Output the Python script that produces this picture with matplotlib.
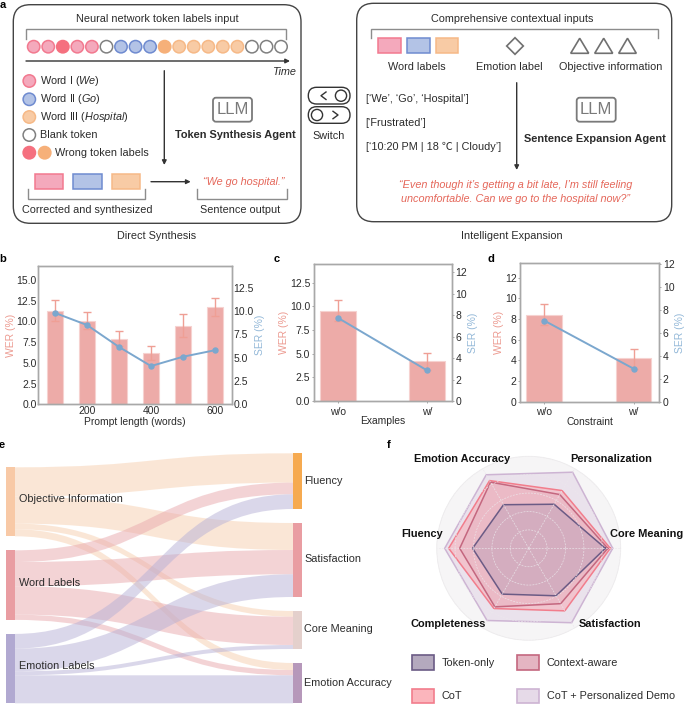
import numpy as np
import matplotlib
matplotlib.use('Agg')
import matplotlib.pyplot as plt
from matplotlib.patches import FancyBboxPatch, Rectangle, Circle, Polygon, PathPatch, FancyArrowPatch
from matplotlib.path import Path

# ---- data ----
prompt_lengths = [100, 200, 300, 400, 500, 600]
b_wer = [11.3, 10.05, 7.9, 6.2, 9.5, 11.7]
b_wer_low = [10.1, 9.1, 7.0, 5.4, 8.15, 10.6]
b_wer_high = [12.55, 11.1, 8.8, 7.0, 10.85, 12.85]
b_ser = [9.8, 8.5, 6.15, 4.1, 5.1, 5.8]

cd_categories = ['w/o', 'w/']
c_wer = [9.5, 4.2]
c_wer_low = [8.4, 3.3]
c_wer_high = [10.63, 5.1]
c_ser = [7.77, 2.86]
d_wer = [8.4, 4.2]
d_wer_low = [7.4, 3.15]
d_wer_high = [9.42, 5.1]
d_ser = [7.08, 2.88]

sources = ['Objective Information', 'Word Labels', 'Emotion Labels']
targets = ['Fluency', 'Satisfaction', 'Core Meaning', 'Emotion Accuracy']
flow_objective = [29.3, 27.0, 5.7, 7.0]
flow_word = [11.7, 24.3, 28.3, 5.3]
flow_emotion = [14.7, 22.7, 4.0, 28.0]

radar_axes = ['Core Meaning', 'Personalization', 'Emotion Accuracy', 'Fluency', 'Completeness', 'Satisfaction']
radar_token = [83.3, 55.3, 54.7, 61.0, 57.5, 59.6]
radar_context = [86.0, 67.5, 83.0, 75.0, 73.5, 69.5]
radar_cot = [88.7, 72.5, 85.0, 87.0, 75.6, 78.5]
radar_demo = [91.3, 95.5, 92.3, 91.3, 90.6, 93.4]
radar_names = ['Token-only', 'Context-aware', 'CoT', 'CoT + Personalized Demo']

token_sequence = ['I', 'I', 'wI', 'I', 'I', 'B', 'II', 'II', 'II', 'wIII', 'III', 'III', 'III', 'III', 'III', 'B', 'B', 'B']

# ---- style ----
W, H = 685, 704
FAM = ['Liberation Sans', 'Noto Sans CJK SC', 'DejaVu Sans']
plt.rcParams['font.family'] = FAM
plt.rcParams['mathtext.fontset'] = 'custom'
plt.rcParams['mathtext.rm'] = 'Liberation Sans'
plt.rcParams['mathtext.it'] = 'Liberation Sans:italic'
TXT = '#2b2b2b'
SP = '#a8a8a8'
BAR = '#EDABA8'
BARE = '#F6D2D0'
ERR = '#EF9F95'
LINE = '#7BA7CE'
WERC = '#EC9A90'
SERC = '#93B8D8'
RED = '#E5675A'
FS = 7.8
FB = 7.95
FT = 7.5

fig = plt.figure(figsize=(W / 100, H / 100), dpi=100)
bg = fig.add_axes([0, 0, 1, 1])
bg.set_xlim(0, W)
bg.set_ylim(H, 0)
bg.axis('off')


def T(x, y, s, ha='center', size=FS, color=TXT, **kw):
    bg.text(x, y, s, ha=ha, va='center', fontsize=size, color=color, **kw)


def bracket(x0, x1, yflat, yend, color='#8c8c8c'):
    bg.plot([x0, x0, x1, x1], [yend, yflat, yflat, yend], color=color, lw=1.0, solid_joinstyle='miter')


def arrow(p0, p1, lw=1.0):
    bg.add_patch(FancyArrowPatch(p0, p1, arrowstyle='-|>', mutation_scale=6.5, color='#333333', lw=lw,
                                 shrinkA=0, shrinkB=0))


def rbox(x0, y0, x1, y1, r, ec='#444444', lw=1.0, fc='white', z=1):
    bg.add_patch(FancyBboxPatch((x0 + r, y0 + r), x1 - x0 - 2 * r, y1 - y0 - 2 * r,
                                boxstyle=f'round,pad={r},rounding_size={r}', ec=ec, fc=fc, lw=lw, zorder=z))


TOK = {'I': ('#F4A9BC', '#F2798F'), 'II': ('#B3C3E6', '#6F8BD0'), 'III': ('#F8CBA5', '#F6B987'),
       'B': ('white', '#808080'), 'wI': ('#F5707F', '#F5707F'), 'wIII': ('#F6B079', '#F6B079')}


def token(x, y, kind, r=6.2):
    fc, ec = TOK[kind]
    bg.add_patch(Circle((x, y), r, fc=fc, ec=ec, lw=1.1, zorder=3))


def wordrect(x0, x1, y0, y1, kind):
    fc, ec = TOK[kind]
    bg.add_patch(Rectangle((x0, y0), x1 - x0, y1 - y0, fc=fc, ec=ec, lw=1.1, zorder=3))


def llm(x0, x1, y0, y1):
    rbox(x0, y0, x1, y1, 3, ec='#7a7a7a', lw=1.3)
    T((x0 + x1) / 2, (y0 + y1) / 2 + 0.3, 'LLM', size=12, color='#7a7a7a', zorder=4)


# ---- panel a, left ----
rbox(13.3, 4.7, 301, 223.3, 17)
T(157.7, 18.7, 'Neural network token labels input')
bracket(26, 285.7, 29.3, 39)
for i, k in enumerate(token_sequence):
    token(33.7 + i * 14.55, 46.7, k)
arrow((26, 61), (290, 61))
T(295.7, 72.3, 'Time', ha='right', style='italic')
for yy, k, s in [(81, 'I', r'Word I ($\mathit{We}$)'), (99.3, 'II', r'Word II ($\mathit{Go}$)'),
                 (117, 'III', r'Word III ($\mathit{Hospital}$)'), (135, 'B', 'Blank token')]:
    token(29.3, yy, k)
    T(40, yy, s, ha='left')
token(29.3, 152.7, 'wI')
token(44.7, 152.7, 'wIII')
T(55, 152.7, 'Wrong token labels', ha='left')
arrow((164.3, 70.7), (164.3, 165))
llm(213, 252, 97.7, 121.7)
T(235, 135.3, 'Token Synthesis Agent', weight='bold', size=FB)
for x0, x1, k in [(34.7, 63.3, 'I'), (73.3, 101.7, 'II'), (112, 140.3, 'III')]:
    wordrect(x0, x1, 174, 188.7, k)
bracket(28.3, 145, 198.7, 189.3)
T(87.3, 210.3, 'Corrected and synthesized')
arrow((151, 181.7), (190.7, 181.7))
T(243.3, 182.3, '\u201cWe go hospital.\u201d', color=RED, style='italic')
bracket(196.7, 287.3, 198.7, 189.3)
T(240, 210.3, 'Sentence output')
T(156.7, 236, 'Direct Synthesis')

# ---- switch ----
rbox(308.3, 87.3, 350, 104, 8.3, ec='#333333', lw=1)
rbox(308.3, 106.7, 350, 123.3, 8.3, ec='#333333', lw=1)
bg.add_patch(Circle((341, 95.7), 5.6, fc='white', ec='#333333', lw=1, zorder=3))
bg.add_patch(Circle((317, 115), 5.6, fc='white', ec='#333333', lw=1, zorder=3))
bg.plot([326, 321, 326], [92, 95.7, 99.5], color='#333333', lw=1, zorder=3)
bg.plot([333, 338, 333], [111.3, 115, 118.7], color='#333333', lw=1, zorder=3)
T(329, 136, 'Switch')

# ---- panel a, right ----
rbox(356.7, 3.3, 671.7, 221.7, 17)
T(511.7, 19, 'Comprehensive contextual inputs')
bracket(371.3, 658.3, 28.7, 38.3)
for x0, x1, k in [(378.3, 401, 'I'), (407, 429.7, 'II'), (435.7, 458.3, 'III')]:
    wordrect(x0, x1, 38, 52.7, k)
bg.add_patch(Polygon([(515, 37.7), (523.3, 46), (515, 54.3), (506.7, 46)], fc='white', ec='#707070', lw=1.2, zorder=3))
for x0, x1 in [(570.7, 588.7), (594.7, 612.7), (618.7, 636.3)]:
    bg.add_patch(Polygon([(x0, 53.3), (x1, 53.3), ((x0 + x1) / 2, 38.3)], fc='white', ec='#707070', lw=1.2, zorder=3))
T(417, 67.3, 'Word labels')
T(509.3, 67.3, 'Emotion label')
T(610.7, 67.3, 'Objective information')
T(365.7, 98.7, "[\u2018We\u2019, \u2018Go\u2019, \u2018Hospital\u2019]", ha='left')
T(365.7, 122.7, "[\u2018Frustrated\u2019]", ha='left')
T(365.7, 147, "[\u201810:20 PM | 18 \u2103 | Cloudy\u2019]", ha='left')
arrow((516.7, 82.7), (516.7, 170))
llm(576.7, 615.7, 97.7, 121.7)
T(595.3, 138.7, 'Sentence Expansion Agent', weight='bold', size=FB)
T(516, 185.3, '\u201cEven though it\u2019s getting a bit late, I\u2019m still feeling', color=RED, style='italic')
T(516, 198.7, 'uncomfortable. Can we go to the hospital now?\u201d', color=RED, style='italic')
T(512.3, 236, 'Intelligent Expansion')

# ---- panel letters ----
for s, x, y in [('a', 3, 5), ('b', 3, 259), ('c', 277, 259), ('d', 491, 258.5), ('e', 2, 445), ('f', 389, 445)]:
    T(x, y, s, size=8, weight='bold', color='black')


# ---- panels b, c, d ----
def axpx(x0, x1, y0, y1, **kw):
    return fig.add_axes([x0 / W, 1 - y1 / H, (x1 - x0) / W, (y1 - y0) / H], **kw)


def combo(box, x, wer, low, high, ser, width, xlim, ylim_l, ylim_r, xticks, xticklabels, yticks_l, yticks_r,
          ylabels_l, ylabels_r, xlabel, lab_l, lab_r, lab_x, ticklen, xlen, xpad):
    ax = axpx(*box)
    ax.patch.set_alpha(0)
    err = [np.array(wer) - np.array(low), np.array(high) - np.array(wer)]
    ax.bar(x, wer, width=width, color=BAR, edgecolor=BARE, lw=0.8)
    ax.errorbar(x, wer, yerr=err, fmt='none', ecolor=ERR, elinewidth=1, capsize=3.2, capthick=1)
    ax.set_xlim(*xlim)
    ax.set_ylim(*ylim_l)
    ax.set_xticks(xticks)
    ax.set_xticklabels(xticklabels)
    ax.set_yticks(yticks_l)
    ax.set_yticklabels(ylabels_l)
    ax.set_ylabel('WER (%)', fontsize=FT, color=WERC)
    ax.yaxis.set_label_coords(*lab_l)
    ax2 = ax.twinx()
    ax2.plot(x, ser, color=LINE, lw=1.4, marker='o', ms=3.6)
    ax2.set_ylim(*ylim_r)
    ax2.set_yticks(yticks_r)
    ax2.set_yticklabels(ylabels_r)
    ax2.set_ylabel('SER (%)', fontsize=FT, color=SERC)
    ax2.yaxis.set_label_coords(*lab_r)
    for a in (ax, ax2):
        a.tick_params(length=ticklen, width=0.7, color=SP, labelsize=FT, labelcolor=TXT, pad=1.2)
        for sp in a.spines.values():
            sp.set_color(SP)
            sp.set_linewidth(1.0)
    ax.tick_params(axis='x', length=xlen, pad=xpad)
    ax.set_xlabel(xlabel, fontsize=7.35, color=TXT)
    ax.xaxis.set_label_coords(0.5, lab_x)


combo((38.3, 231.7, 265.7, 404.3), prompt_lengths, b_wer, b_wer_low, b_wer_high, b_ser, 48, (48, 652),
      (0, 16.73), (0, 14.86), [200, 400, 600], ['200', '400', '600'], [0, 2.5, 5, 7.5, 10, 12.5, 15],
      [0, 2.5, 5, 7.5, 10, 12.5], ['0.0', '2.5', '5.0', '7.5', '10.0', '12.5', '15.0'],
      ['0.0', '2.5', '5.0', '7.5', '10.0', '12.5'], 'Prompt length (words)', (-0.115, 0.5), (1.12, 0.5), -0.092, 0, 0, 1.0)
combo((314, 451.7, 264, 401), [0, 1], c_wer, c_wer_low, c_wer_high, c_ser, 0.4, (-0.265, 1.277),
      (0, 14.47), (0, 12.78), [0, 1], cd_categories, [0, 2.5, 5, 7.5, 10, 12.5],
      [0, 2, 4, 6, 8, 10, 12], ['0.0', '2.5', '5.0', '7.5', '10.0', '12.5'],
      ['0', '2', '4', '6', '8', '10', '12'], 'Examples', (-0.18, 0.5), (1.122, 0.5), -0.113, 1.5, 1.5, 2.5)
combo((520.3, 659, 263.3, 401.7), [0, 1], d_wer, d_wer_low, d_wer_high, d_ser, 0.4, (-0.269, 1.284),
      (0, 13.4), (0, 12.09), [0, 1], cd_categories, [0, 2, 4, 6, 8, 10, 12],
      [0, 2, 4, 6, 8, 10, 12], ['0', '2', '4', '6', '8', '10', '12'],
      ['0', '2', '4', '6', '8', '10', '12'], 'Constraint', (-0.12, 0.5), (1.117, 0.5), -0.11, 1.5, 1.5, 2.0)

# ---- panel e: sankey ----
flows = [flow_objective, flow_word, flow_emotion]
SRC_COL = ['#F8C9A6', '#E99DA2', '#B1A9D1']
LINK_COL = ['#F7CFAE', '#E9A9AD', '#B7B1D6']
TGT_COL = ['#F6AA50', '#E99DA2', '#E4D0CC', '#B698BA']
GAP = 14.0
src_tot = [sum(f) for f in flows]
tgt_tot = [sum(f[j] for f in flows) for j in range(len(targets))]
sy = 467.3
src_y = []
for t in src_tot:
    src_y.append(sy)
    sy += t + GAP
ty = 453.3
tgt_y = []
for t in tgt_tot:
    tgt_y.append(ty)
    ty += t + GAP
xl0, xl1, xr0, xr1 = 6, 15, 293, 302
tgt_cursor = list(tgt_y)
for i, f in enumerate(flows):
    c = src_y[i]
    for j, v in enumerate(f):
        y0, y1 = c, tgt_cursor[j]
        xm = (xl1 + xr0) / 2
        verts = [(xl1, y0), (xm, y0), (xm, y1), (xr0, y1), (xr0, y1 + v), (xm, y1 + v), (xm, y0 + v), (xl1, y0 + v), (xl1, y0)]
        codes = [Path.MOVETO, Path.CURVE4, Path.CURVE4, Path.CURVE4, Path.LINETO, Path.CURVE4, Path.CURVE4, Path.CURVE4, Path.CLOSEPOLY]
        bg.add_patch(PathPatch(Path(verts, codes), fc=LINK_COL[i], ec='none', alpha=0.5, zorder=2))
        c += v
        tgt_cursor[j] += v
for i, s in enumerate(sources):
    bg.add_patch(Rectangle((xl0, src_y[i]), xl1 - xl0, src_tot[i], fc=SRC_COL[i], ec='none', zorder=3))
    T(18.7, src_y[i] + src_tot[i] / 2 - 2.3, s, ha='left', size=7.8, zorder=5)
for j, s in enumerate(targets):
    bg.add_patch(Rectangle((xr0, tgt_y[j]), xr1 - xr0, tgt_tot[j], fc=TGT_COL[j], ec='none', zorder=3))
    T(304, tgt_y[j] + tgt_tot[j] / 2 - 0.5, s, ha='left', size=7.8, zorder=5)

# ---- panel f: radar ----
cx, cy, R = 528.7, 548.3, 92
pax = axpx(cx - R, cx + R, cy - R, cy + R, projection='polar')
pax.set_facecolor('#F6F5F6')
ang = np.deg2rad([0, 60, 120, 180, 240, 300])
pax.set_ylim(0, 100)
pax.set_yticks([20, 40, 60, 80, 100])
pax.set_yticklabels([])
pax.set_xticks(ang)
pax.set_xticklabels([])
pax.set_axisbelow(False)
pax.grid(color='#ECE8EC', ls=(0, (2.5, 1.5)), lw=0.55, alpha=0.8)
pax.spines['polar'].set_color('#EEEDEE')
pax.spines['polar'].set_linewidth(0.6)
pax.tick_params(length=0)
styles = [(radar_demo, '#E3D6E6', '#CDB4D3'), (radar_cot, '#FBA0AA', '#F27D8C'),
          (radar_context, '#D596AA', '#C4677F'), (radar_token, '#A08FB0', '#6B5B85')]
alphas = [0.6, 0.45, 0.2, 0.3]
aa = np.append(ang, ang[0])
for k, ((vals, fc, ec), al) in enumerate(zip(styles, alphas)):
    vv = np.append(vals, vals[0])
    pax.fill(aa, vv, color=fc, alpha=al, lw=0, zorder=1 + 0.1 * k)
    pax.plot(aa, vv, color=ec, lw=1.1, zorder=2 + 0.1 * k)
for s, x, y in [('Emotion Accuracy', 414, 459), ('Personalization', 570.7, 459), ('Fluency', 401.7, 533.7),
                ('Core Meaning', 610, 533.7), ('Completeness', 410, 624.3), ('Satisfaction', 579, 624.3)]:
    fig.text(x / W, 1 - y / H, s, ha='left', va='center', fontsize=7.9, weight='bold', color='#111111')

leg_fc = ['#B4A9BE', '#E4B5C2', '#FBB5BC', '#E6DAE8']
leg_ec = ['#6B5B85', '#C4677F', '#F27D8C', '#CDB4D3']
leg_pos = [(412, 655, 441.7, 662.7), (516.7, 655, 546.7, 662.7), (412, 688.7, 441.7, 696), (516.7, 688.7, 546.7, 696)]
for n, fc, ec, (x, y, tx, tyy) in zip(radar_names, leg_fc, leg_ec, leg_pos):
    bg.add_patch(Rectangle((x, y), 22.3, 14.7, fc=fc, ec=ec, lw=1.2, zorder=3))
    T(tx, tyy, n, ha='left', size=7.8)

fig.savefig('out.png', dpi=100)
